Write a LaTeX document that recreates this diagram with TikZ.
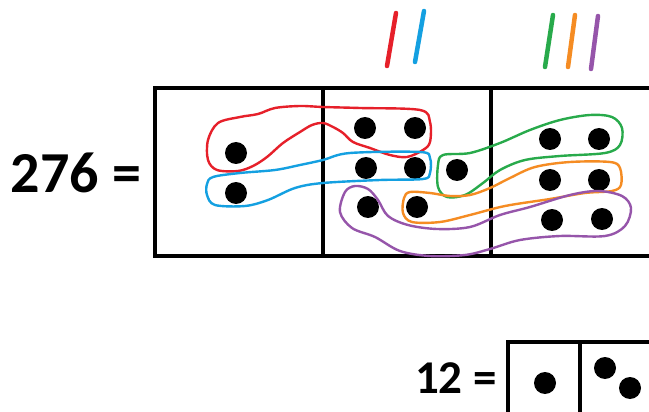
\documentclass[tikz,border=0pt]{standalone}
\usepackage{fontspec}
\setmainfont{Carlito}
\definecolor{lred}{RGB}{230,32,42}
\definecolor{lblue}{RGB}{20,160,225}
\definecolor{lgreen}{RGB}{40,170,75}
\definecolor{lorange}{RGB}{245,140,35}
\definecolor{lpurple}{RGB}{150,85,170}
\tikzset{
  dot/.style={circle,fill=black,minimum size=22pt,inner sep=0pt},
  frame/.style={draw=black,line width=3.2pt},
  loop/.style={line width=2.4pt,line join=round},
  tally/.style={line width=4.5pt,line cap=round},
  lbl/.style={font=\bfseries\fontsize{58}{58}\selectfont,inner sep=0pt,anchor=base},
  lblsmall/.style={font=\bfseries\fontsize{47}{47}\selectfont,inner sep=0pt,anchor=base}
}
\begin{document}
\begin{tikzpicture}[x=1pt,y=-1pt]
\useasboundingbox (0,0) rectangle (649,412);
\fill[white] (0,0) rectangle (649,412);
\clip (0,0) rectangle (649,412);
% labels
\node[lbl] (n276) at (76,193) {276 =};
\node[lblsmall] (n12) at (456,393) {12 =};
% main frame
\draw[frame] (155,88) rectangle (670,256);
\draw[frame] (323,88) -- (323,256);
\draw[frame] (491,88) -- (491,256);
% bottom frame
\draw[frame] (508,342) rectangle (670,430);
\draw[frame] (580,342) -- (580,430);
% dots
\node[dot] (a1) at (236,153) {};
\node[dot] (a2) at (236,193) {};
\node[dot] (b1) at (365,128) {};
\node[dot] (b2) at (415,128) {};
\node[dot] (b3) at (366,168) {};
\node[dot] (b4) at (415,168) {};
\node[dot] (b5) at (368,207) {};
\node[dot] (b6) at (417,207) {};
\node[dot] (b7) at (457,170) {};
\node[dot] (c1) at (550,139) {};
\node[dot] (c2) at (599,139) {};
\node[dot] (c3) at (550,180) {};
\node[dot] (c4) at (599,180) {};
\node[dot] (c5) at (552,220) {};
\node[dot] (c6) at (602,219) {};
\node[dot] (e1) at (545,383) {};
\node[dot] (e2) at (605,368) {};
\node[dot] (e3) at (630,388) {};
% loops
\draw[loop,lred] plot[smooth cycle,tension=0.55] coordinates {
 (208,140) (218,123) (240,117) (258,114) (275,108) (300,106) (323,107) (360,108)
 (420,110) (430,122) (430,142) (423,150) (407,157) (390,155) (370,148) (353,142)
 (343,133) (333,127) (323,123) (312,125) (300,132) (283,143) (267,157) (253,166)
 (238,171) (217,170) (208,160)};
\draw[loop,lblue] plot[smooth cycle,tension=0.55] coordinates {
 (213,177) (240,173) (275,170) (300,165) (323,160) (350,153) (420,152) (430,158)
 (430,173) (423,179) (380,180) (323,183) (295,188) (268,200) (245,206) (215,205)
 (207,195) (207,184)};
\draw[loop,lgreen] plot[smooth cycle,tension=0.55] coordinates {
 (443,155) (470,153) (500,143) (530,130) (560,120) (590,115) (612,117) (622,128)
 (620,145) (605,153) (560,156) (525,160) (500,170) (483,183) (465,195) (447,197)
 (438,187) (438,165)};
\draw[loop,lorange] plot[smooth cycle,tension=0.55] coordinates {
 (410,192) (430,193) (450,196) (470,195) (490,188) (510,178) (535,167) (570,162)
 (610,162) (620,168) (621,185) (612,191) (585,193) (550,199) (505,206) (470,215)
 (440,222) (412,222) (403,213) (404,198)};
\draw[loop,lpurple] plot[smooth cycle,tension=0.55] coordinates {
 (345,192) (340,212) (352,228) (375,237) (400,251) (430,256) (465,255) (490,249)
 (520,240) (560,236) (605,236) (625,226) (631,208) (622,196) (598,191) (570,195)
 (530,207) (500,215) (470,227) (437,229) (408,225) (388,216) (378,200) (368,189)
 (355,186)};
% tallies
\draw[tally,lred] (387,66) -- (396,13);
\draw[tally,lblue] (415,62) -- (424,11);
\draw[tally,lgreen] (545,67) -- (553,15);
\draw[tally,lorange] (568,67) -- (575,15);
\draw[tally,lpurple] (591,69) -- (598,16);
\end{tikzpicture}
\end{document}
